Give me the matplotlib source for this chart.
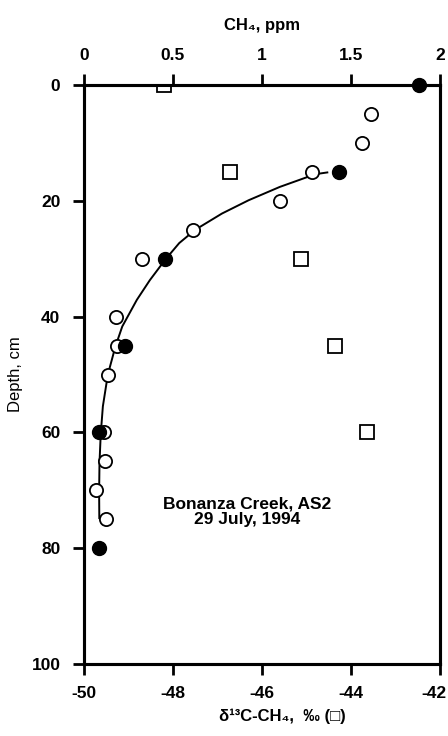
import matplotlib
matplotlib.use('Agg')
import matplotlib.pyplot as plt
from matplotlib.transforms import ScaledTranslation

plt.rcParams['font.family'] = ['Liberation Sans', 'DejaVu Sans']

# CH4 concentration, open circles (ppm vs depth)
open_depth = [5, 10, 15, 20, 25, 30, 40, 45, 50, 60, 65, 70, 75]
open_ppm = [1.61, 1.56, 1.28, 1.10, 0.614, 0.326, 0.18, 0.185, 0.133, 0.114, 0.118, 0.067, 0.122]

# CH4 concentration, filled circles
fill_depth = [0, 15, 30, 45, 60, 80]
fill_ppm = [1.88, 1.43, 0.455, 0.232, 0.084, 0.086]

# fitted curve
fit_depth = [15.1, 15.4, 17.6, 19.9, 22.2, 25.0, 27.3, 30.1, 33.7, 37.1,
             41.7, 45.2, 47.5, 50, 55.5, 60.3, 65.3, 70.3, 74.8]
fit_ppm = [1.367, 1.30, 1.10, 0.925, 0.775, 0.625, 0.535, 0.458, 0.37, 0.297,
           0.215, 0.176, 0.156, 0.134, 0.106, 0.094, 0.087, 0.085, 0.086]

# delta 13C of CH4, squares
sq_depth = [0, 15, 30, 45, 60]
sq_d13c = [-48.2, -46.72, -45.13, -44.36, -43.64]

d13c_ticks = [-50, -48, -46, -44, -42]
ppm_ticks = [0, 0.5, 1, 1.5, 2]
ppm_labels = ['0', '0.5', '1', '1.5', '2']
depth_ticks = [0, 20, 40, 60, 80, 100]

fig = plt.figure(figsize=(4.48, 7.36), dpi=100)
ax = fig.add_axes([0.1875, 0.0978, 0.7946, 0.7867])

ax.plot(sq_d13c, sq_depth, 's', ms=10, mfc='white', mec='black', mew=1.3, zorder=3)
ax.set_xlim(-50, -42)
ax.set_ylim(100, 0)
ax.set_xticks(d13c_ticks)
ax.set_xticklabels([str(t) for t in d13c_ticks])
ax.set_yticks(depth_ticks)
ax.set_ylabel('Depth, cm', fontsize=12, labelpad=6)
ax.set_xlabel('δ¹³C-CH₄,  ‰ (□)', fontsize=12, fontweight='bold')
ax.xaxis.set_label_coords(0.556, -0.09)
ax.xaxis.label.set_va('center')

ax2 = ax.twiny()
ax2.plot(fit_ppm, fit_depth, '-', color='black', lw=1.4, zorder=2)
ax2.plot(open_ppm, open_depth, 'o', ms=9.5, mfc='white', mec='black', mew=1.3, zorder=3)
ax2.plot(fill_ppm, fill_depth, 'o', ms=10, mfc='black', mec='black', zorder=4, clip_on=False)
ax2.set_xlim(0, 2)
ax2.set_xticks(ppm_ticks)
ax2.set_xticklabels(ppm_labels)
ax2.set_xlabel('CH₄, ppm', fontsize=12, fontweight='bold', labelpad=13)

ax2.text(0.914, 73.7, 'Bonanza Creek, AS2\n29 July, 1994', ha='center', va='center',
         fontsize=12.5, fontweight='bold', linespacing=1.0)

for a in (ax, ax2):
    for s in a.spines.values():
        s.set_linewidth(2.2)
    a.tick_params(direction='out', length=8, width=2, pad=8, labelsize=12.5)
    for lab in a.get_xticklabels() + a.get_yticklabels():
        lab.set_fontweight('bold')
ax.tick_params(axis='y', pad=9)

# last bottom label sits slightly left of its tick, as in the original
last = ax.get_xticklabels()[-1]
last.set_transform(last.get_transform() + ScaledTranslation(-6 / 100, 0, fig.dpi_scale_trans))

fig.savefig('out.png', dpi=100)
